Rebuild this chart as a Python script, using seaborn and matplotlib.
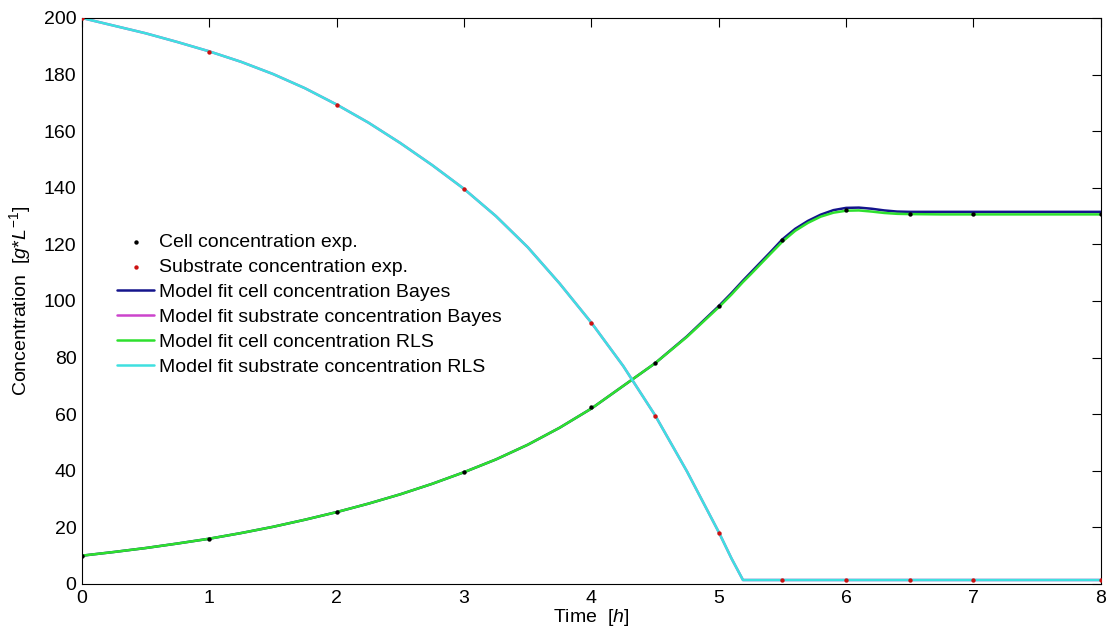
import numpy as np
import pandas as pd
import matplotlib
matplotlib.use("Agg")
import matplotlib.pyplot as plt
import seaborn as sns

# Experimental measurements
t_exp = [0, 1, 2, 3, 4, 4.5, 5, 5.5, 6, 6.5, 7, 8]
cell_exp = [10, 16, 25.4, 39.6, 62.5, 78, 98.2, 121.5, 132, 130.7, 130.7, 130.7]
substrate_exp = [200, 188, 169.3, 139.6, 92.2, 59.4, 18, 1.4, 1.4, 1.4, 1.4, 1.4]

# Model fits evaluated on a time grid
t_model = [0, 0.25, 0.5, 0.75, 1, 1.25, 1.5, 1.75, 2, 2.25, 2.5, 2.75, 3, 3.25,
           3.5, 3.75, 4, 4.25, 4.5, 4.75, 5, 5.1, 5.19, 5.25, 5.4, 5.5, 5.6,
           5.7, 5.8, 5.9, 6, 6.1, 6.2, 6.3, 6.4, 6.5, 6.75, 7, 7.5, 8]
cell_bayes = [10, 11.3, 12.7, 14.3, 16.0, 18.0, 20.2, 22.7, 25.4, 28.4, 31.7,
              35.4, 39.5, 44.0, 49.2, 55.2, 62.0, 70.0, 78.0, 87.5, 98.2,
              102.8, 107.2, 110.0, 117.0, 121.8, 125.5, 128.3, 130.5, 132.1,
              132.9, 133.0, 132.6, 132.0, 131.6, 131.5, 131.5, 131.5, 131.5,
              131.5]
cell_rls = [10, 11.3, 12.7, 14.3, 16.0, 18.0, 20.2, 22.7, 25.4, 28.4, 31.7,
            35.4, 39.5, 44.0, 49.2, 55.2, 62.0, 70.0, 78.0, 87.3, 97.8,
            102.3, 106.7, 109.4, 116.4, 121.0, 124.8, 127.6, 129.8, 131.2,
            131.9, 132.0, 131.6, 131.1, 130.8, 130.7, 130.6, 130.6, 130.6,
            130.6]
substrate_bayes = [200, 197.3, 194.6, 191.5, 188.2, 184.5, 180.2, 175.2, 169.4,
                   163.0, 155.8, 148.0, 139.6, 130.0, 119.0, 106.2, 92.3, 77.0,
                   59.6, 39.8, 18.3, 9.0, 1.4, 1.4, 1.4, 1.4, 1.4, 1.4, 1.4,
                   1.4, 1.4, 1.4, 1.4, 1.4, 1.4, 1.4, 1.4, 1.4, 1.4, 1.4]
substrate_rls = [200, 197.3, 194.6, 191.5, 188.2, 184.5, 180.2, 175.2, 169.4,
                 163.0, 155.8, 148.0, 139.6, 130.0, 119.0, 106.2, 92.3, 77.0,
                 59.6, 39.8, 18.3, 9.0, 1.4, 1.4, 1.4, 1.4, 1.4, 1.4, 1.4,
                 1.4, 1.4, 1.4, 1.4, 1.4, 1.4, 1.4, 1.4, 1.4, 1.4, 1.4]

sns.set_style("white")
plt.rcParams["font.family"] = ["Liberation Sans", "DejaVu Sans"]
plt.rcParams["mathtext.fontset"] = "custom"
plt.rcParams["mathtext.rm"] = "Liberation Sans"
plt.rcParams["mathtext.it"] = "Liberation Sans:italic"
plt.rcParams["text.color"] = "black"
plt.rcParams["axes.labelcolor"] = "black"

fig = plt.figure(figsize=(11.14, 6.36), dpi=100)
ax = fig.add_axes([0.0736, 0.0818, 0.9146, 0.8899])

exp_df = pd.DataFrame({"t": t_exp, "cell": cell_exp, "sub": substrate_exp})
model_df = pd.DataFrame({"t": t_model, "cb": cell_bayes, "sb": substrate_bayes,
                         "cr": cell_rls, "sr": substrate_rls})

sns.scatterplot(data=exp_df, x="t", y="cell", ax=ax, color="black", s=10,
                linewidth=0, label="Cell concentration exp.", zorder=5)
sns.scatterplot(data=exp_df, x="t", y="sub", ax=ax, color="#cc1111", s=10,
                linewidth=0, label="Substrate concentration exp.", zorder=5)

line_specs = [
    ("cb", "#14148c", "Model fit cell concentration Bayes"),
    ("sb", "#cc44cc", "Model fit substrate concentration Bayes"),
    ("cr", "#2ee02e", "Model fit cell concentration RLS"),
    ("sr", "#3fe0e0", "Model fit substrate concentration RLS"),
]
for col, color, label in line_specs:
    sns.lineplot(data=model_df, x="t", y=col, ax=ax, color=color, lw=1.8,
                 label=label, sort=False, estimator=None)

ax.set_xlim(0, 8)
ax.set_ylim(0, 200)
ax.set_xticks(range(0, 9))
ax.set_yticks(range(0, 201, 20))
ax.tick_params(direction="in", length=6.5, width=0.8, top=True, right=True,
               labelsize=14, pad=4, colors="black")
for s in ax.spines.values():
    s.set_color("black")
    s.set_linewidth(0.8)

ax.set_xlabel(r"Time  $\mathit{[h]}$", fontsize=14, labelpad=0)
ax.set_ylabel(r"Concentration  $\mathit{[g{*}L^{-1}]}$", fontsize=14, labelpad=8)

leg = ax.legend(loc="upper left", bbox_to_anchor=(0.027, 0.633), frameon=False,
                fontsize=14, handlelength=1.9, handletextpad=0.25,
                labelspacing=0.38, borderaxespad=0, markerscale=1.0)
for txt in leg.get_texts():
    txt.set_color("black")

fig.savefig("out.png", dpi=100)
